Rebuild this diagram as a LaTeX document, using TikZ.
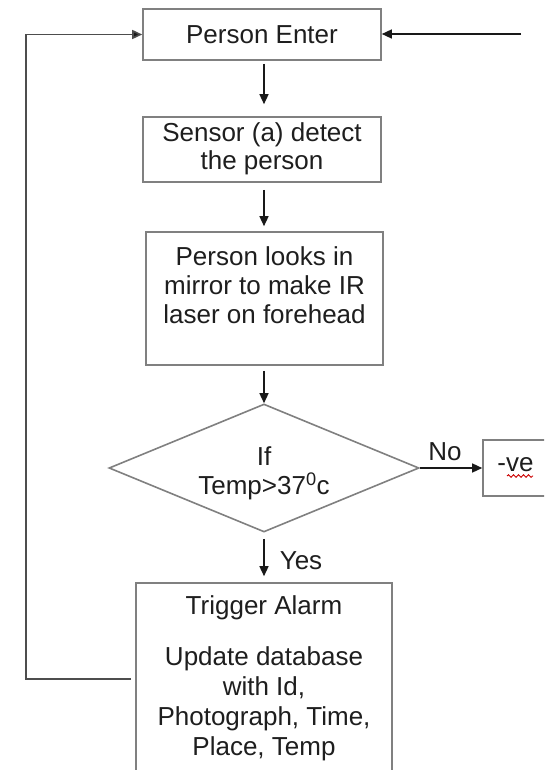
\documentclass[tikz,border=0pt]{standalone}
\usepackage{fontspec}
\setmainfont{Liberation Sans}
\usetikzlibrary{arrows.meta,shapes.geometric,decorations.pathmorphing}
\definecolor{boxgray}{RGB}{128,128,128}
\definecolor{linecol}{RGB}{25,25,25}
\definecolor{txtcol}{RGB}{30,30,30}
\begin{document}
\begin{tikzpicture}[x=1pt,y=-1pt,
  box/.style={draw=boxgray, line width=1.6pt, inner sep=0pt},
  txt/.style={align=center, font=\fontsize{26}{29}\selectfont, text=txtcol, inner sep=0pt},
  conn/.style={draw=linecol, line width=1.4pt, -{Triangle[length=10pt,width=9pt]}},
  feed/.style={draw=boxgray!60!black, line width=1.6pt, -{Triangle[length=10pt,width=9pt,fill=linecol]}},
  squiggle/.style={draw=red!80!black, line width=0.9pt, decorate, decoration={snake, amplitude=1.3pt, segment length=5pt}}]
\useasboundingbox (0,0) rectangle (544,770);
\clip (0,0) rectangle (544,770);
\fill[white] (0,0) rectangle (544,770);

% boxes
\node[box, txt, minimum width=238, minimum height=51] (enter) at (262,34.5) {Person Enter};
\node[box, minimum width=238, minimum height=65] (sensor) at (262,149.5) {};
\node[txt, font=\fontsize{26}{28}\selectfont] (sensortxt) at (262,149) {Sensor (a) detect\\the person};
\node[box, minimum width=237, minimum height=133] (looks) at (264.5,298.5) {};
\node[txt] (lookstxt) at (264.5,285) {Person looks in\\mirror to make IR\\laser on forehead};
\node[draw=boxgray, line width=1.6pt, shape=diamond, inner sep=0pt, minimum width=310, minimum height=128] (dec) at (264,468) {};
\node[txt] (dectxt) at (264,473) {If\\Temp>37\textsuperscript{0}c};
\node[box, minimum width=82, minimum height=56] (neg) at (524,468) {};
\node[txt, anchor=base] (negtxt) at (515.5,471) {-ve};
\node[box, minimum width=256, minimum height=207] (alarm) at (264,686.5) {};
\node[txt] (alarmtitle) at (264,608) {Trigger Alarm};
\node[txt, font=\fontsize{26}{30}\selectfont] (alarmtxt) at (264,704) {Update database\\with Id,\\Photograph, Time,\\Place, Temp};

% labels
\node[txt] (nolbl) at (445,452) {No};
\node[txt] (yeslbl) at (301,561) {Yes};

% squiggle under "ve"
\coordinate (sqa) at (507,476);
\coordinate (sqb) at (533,476);
\draw[squiggle] (sqa) -- (sqb);

% connectors
\coordinate (xcol) at (264,0);
\draw[conn, shorten <=3pt, shorten >=12pt] (enter.south -| xcol) -- (sensor.north -| xcol);
\draw[conn, shorten <=7pt, shorten >=5pt] (sensor.south -| xcol) -- (looks.north -| xcol);
\draw[conn, shorten <=5pt] (looks.south -| xcol) -- (dec.north);
\draw[conn, shorten <=6pt, shorten >=6pt] (dec.south) -- (alarm.north -| dec.south);
\draw[conn] (dec.east) -- (neg.west);

\coordinate (entry) at (521,34);
\draw[conn] (entry) -- (enter.east |- entry);

\coordinate (fbcorner) at (26,679);
\draw[feed] ([xshift=-4pt]alarm.west |- fbcorner) -- (fbcorner) |- (enter.west);
\end{tikzpicture}
\end{document}
